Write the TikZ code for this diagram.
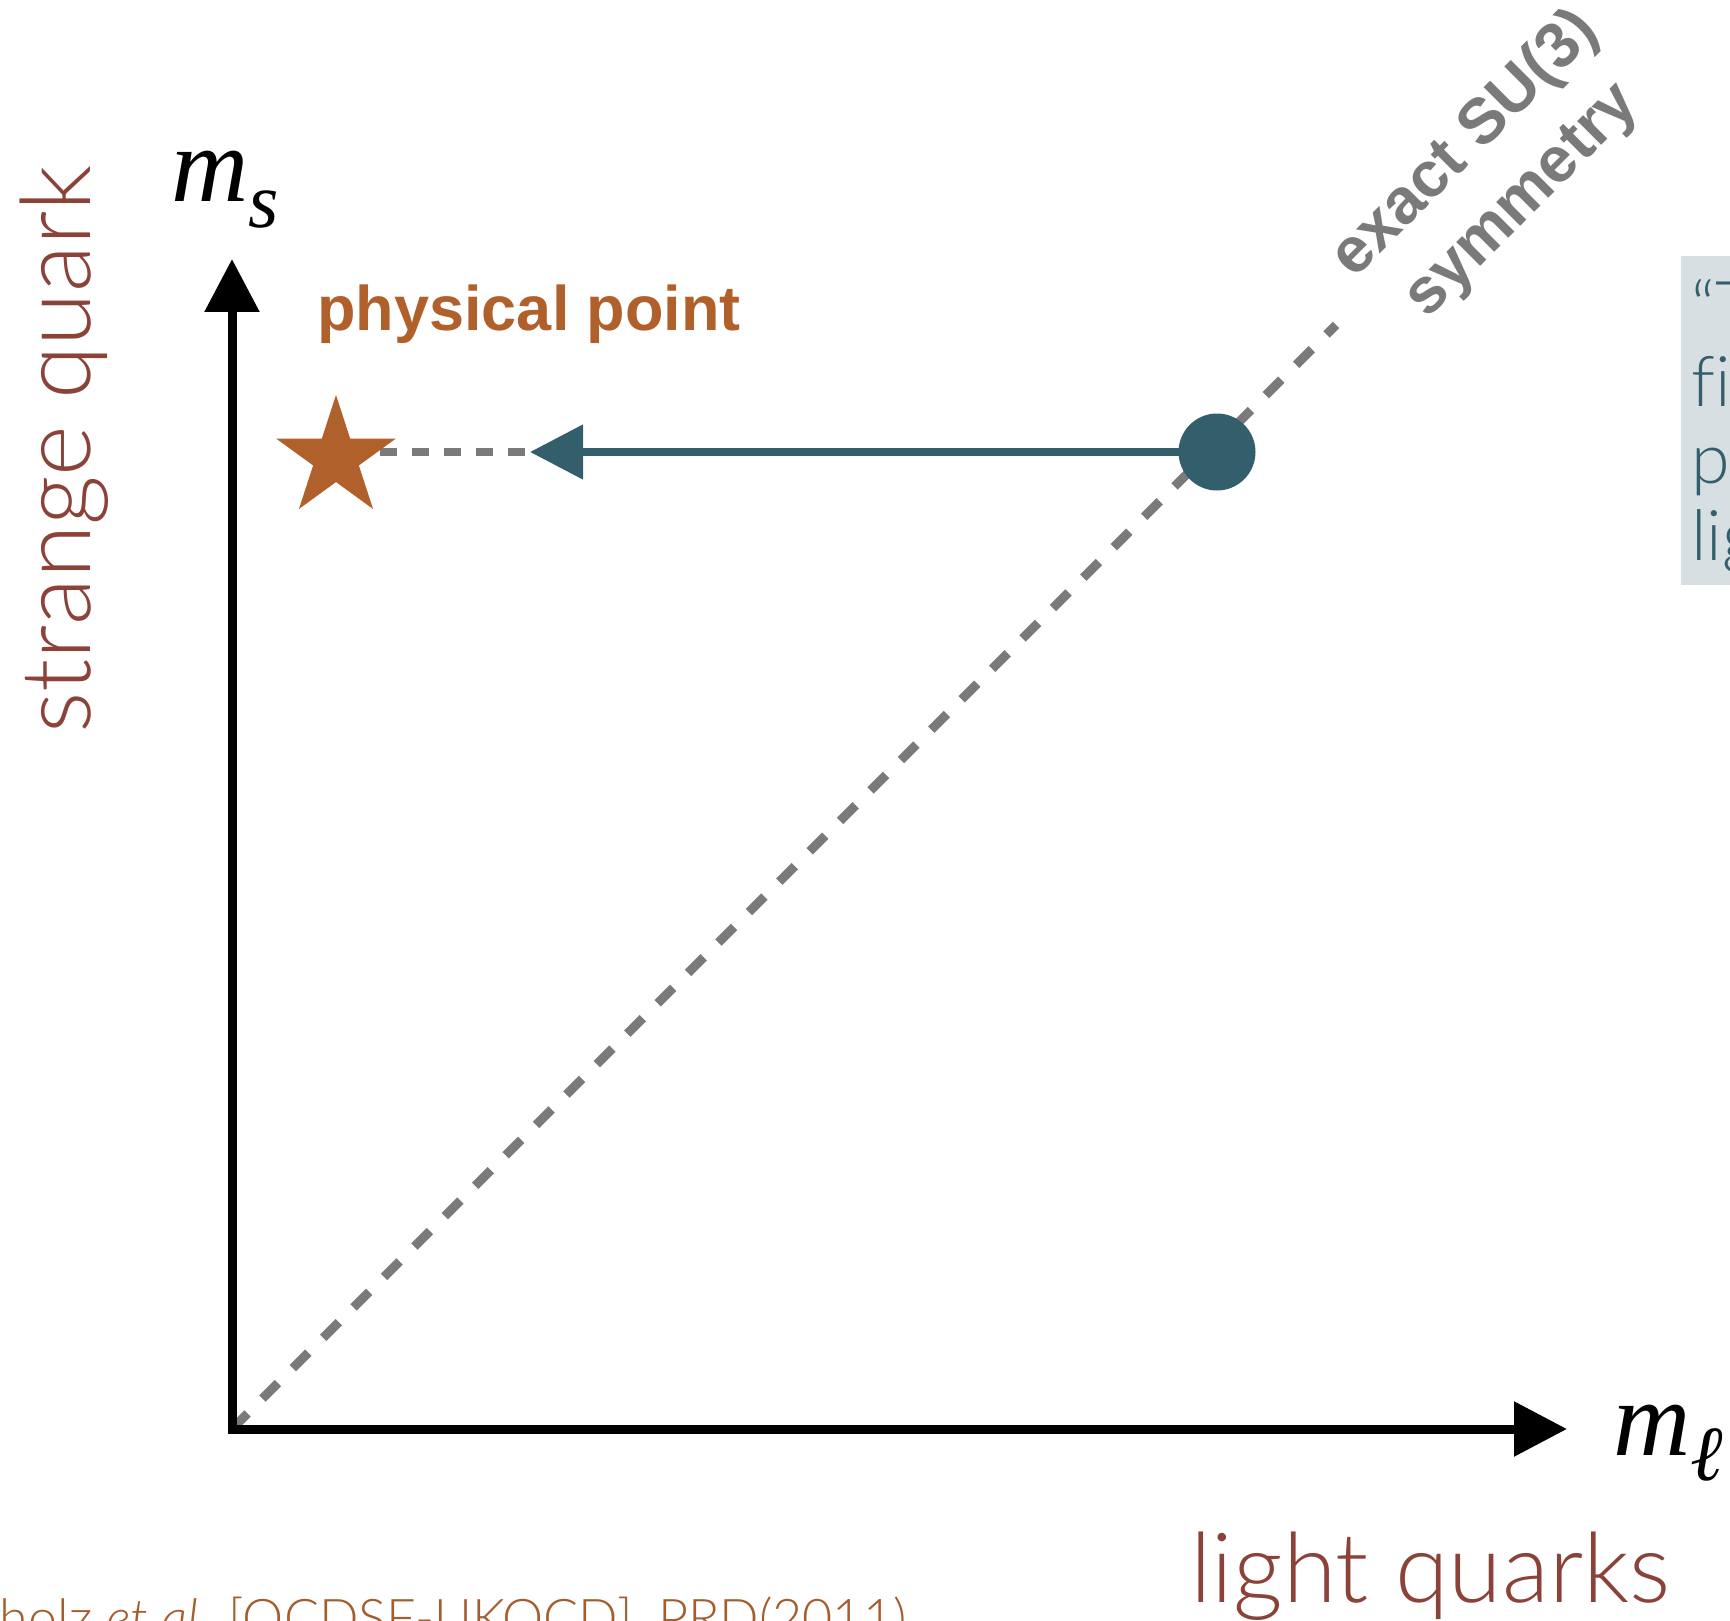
\documentclass[tikz,border=0pt]{standalone}
\usepackage{fontspec}
\usetikzlibrary{arrows.meta,shapes.geometric}
\newfontfamily\hel{Liberation Sans}
\newfontfamily\tms{Liberation Serif}
\newfontfamily\lightf{Lato}[UprightFont=* Light, ItalicFont=* Light Italic, Ligatures=NoCommon]
\definecolor{orng}{HTML}{B0602B}
\definecolor{brn}{HTML}{8A4239}
\definecolor{teald}{HTML}{335E6B}
\definecolor{gry}{HTML}{7A7A7A}
\definecolor{boxbg}{HTML}{D7DFE2}
\definecolor{citec}{HTML}{A65D2E}
\begin{document}
\begin{tikzpicture}[x=0.5pt,y=-0.5pt,
  axisline/.style={line width=4.5pt, line cap=rect, -{Triangle[length=26.5pt,width=26.5pt]}},
  diagline/.style={gry, line width=4.5pt, dash pattern=on 11pt off 10.5pt},
  pathline/.style={teald, line width=4pt, -{Triangle[length=26.5pt,width=26.5pt]}},
  linkline/.style={gry, line width=4pt, dash pattern=on 8.5pt off 7.5pt, dash phase=13.5pt},
  mathlbl/.style={anchor=base west, inner sep=0, font=\tms\itshape\fontsize{53.5}{60}\selectfont},
  quarklbl/.style={anchor=base west, inner sep=0, text=brn, font=\lightf\fontsize{48.5}{54}\selectfont},
  boxtxt/.style={anchor=base west, inner sep=0, text=teald, font=\lightf\fontsize{35}{40}\selectfont}]
\useasboundingbox (0,0) rectangle (1730,1621);
\clip (0,0) rectangle (1730,1621);
% axes
\coordinate (o) at (232,1429);
\coordinate (xt) at (1567,1429);
\coordinate (yt) at (232,259);
\coordinate (dend) at (1336,325);
\draw[diagline] (o) -- (dend);
\draw[axisline] (o) -- (xt);
\draw[axisline] (o) -- (yt);
% points
\coordinate (tip) at (530,452);
\node[circle, fill=teald, minimum size=38.5pt, inner sep=0] (dot) at (1217,452) {};
\draw[linkline] (tip) -- (tip -| 336,458);
\node[star, star points=5, star point ratio=2.618, fill=orng, minimum size=63pt, inner sep=0] (star) at (336,458) {};
\draw[pathline] (dot.center) -- (tip);
% labels
\node[mathlbl] (ms) at (171,202) {m\raisebox{-13pt}{\fontsize{39}{40}\selectfont s}};
\node[mathlbl] (ml) at (1613,1455) {m\raisebox{-12.5pt}{\fontsize{39}{40}\selectfont ℓ}};
\node[anchor=base west, inner sep=0, text=orng, font=\hel\bfseries\fontsize{31.5}{36}\selectfont] (pp) at (317,331) {physical point};
\node[quarklbl, rotate=90] (sq) at (90,734) {strange quark};
\node[quarklbl] (lq) at (1190,1602) {light quarks};
\node[anchor=base east, inner sep=0, text=citec, font=\lightf\fontsize{26}{32}\selectfont] (cit) at (907,1636) {Bietenholz \textit{et al.} [QCDSF-UKQCD], PRD(2011)};
\node[rotate=45, align=center, text=gry, font=\hel\bfseries\fontsize{32}{40}\selectfont] (su3) at (1494,173) {exact SU(3)\\symmetry};
% side box
\node[anchor=north west, fill=boxbg, minimum width=40pt, minimum height=164.5pt, inner sep=0] (box) at (1681,256) {};
\node[boxtxt] (b1) at (1691,332) {“T};
\node[boxtxt] (b2) at (1691,406) {fix};
\node[boxtxt] (b3) at (1691,483) {p};
\node[boxtxt] (b4) at (1691,560) {lig};
\end{tikzpicture}
\end{document}
